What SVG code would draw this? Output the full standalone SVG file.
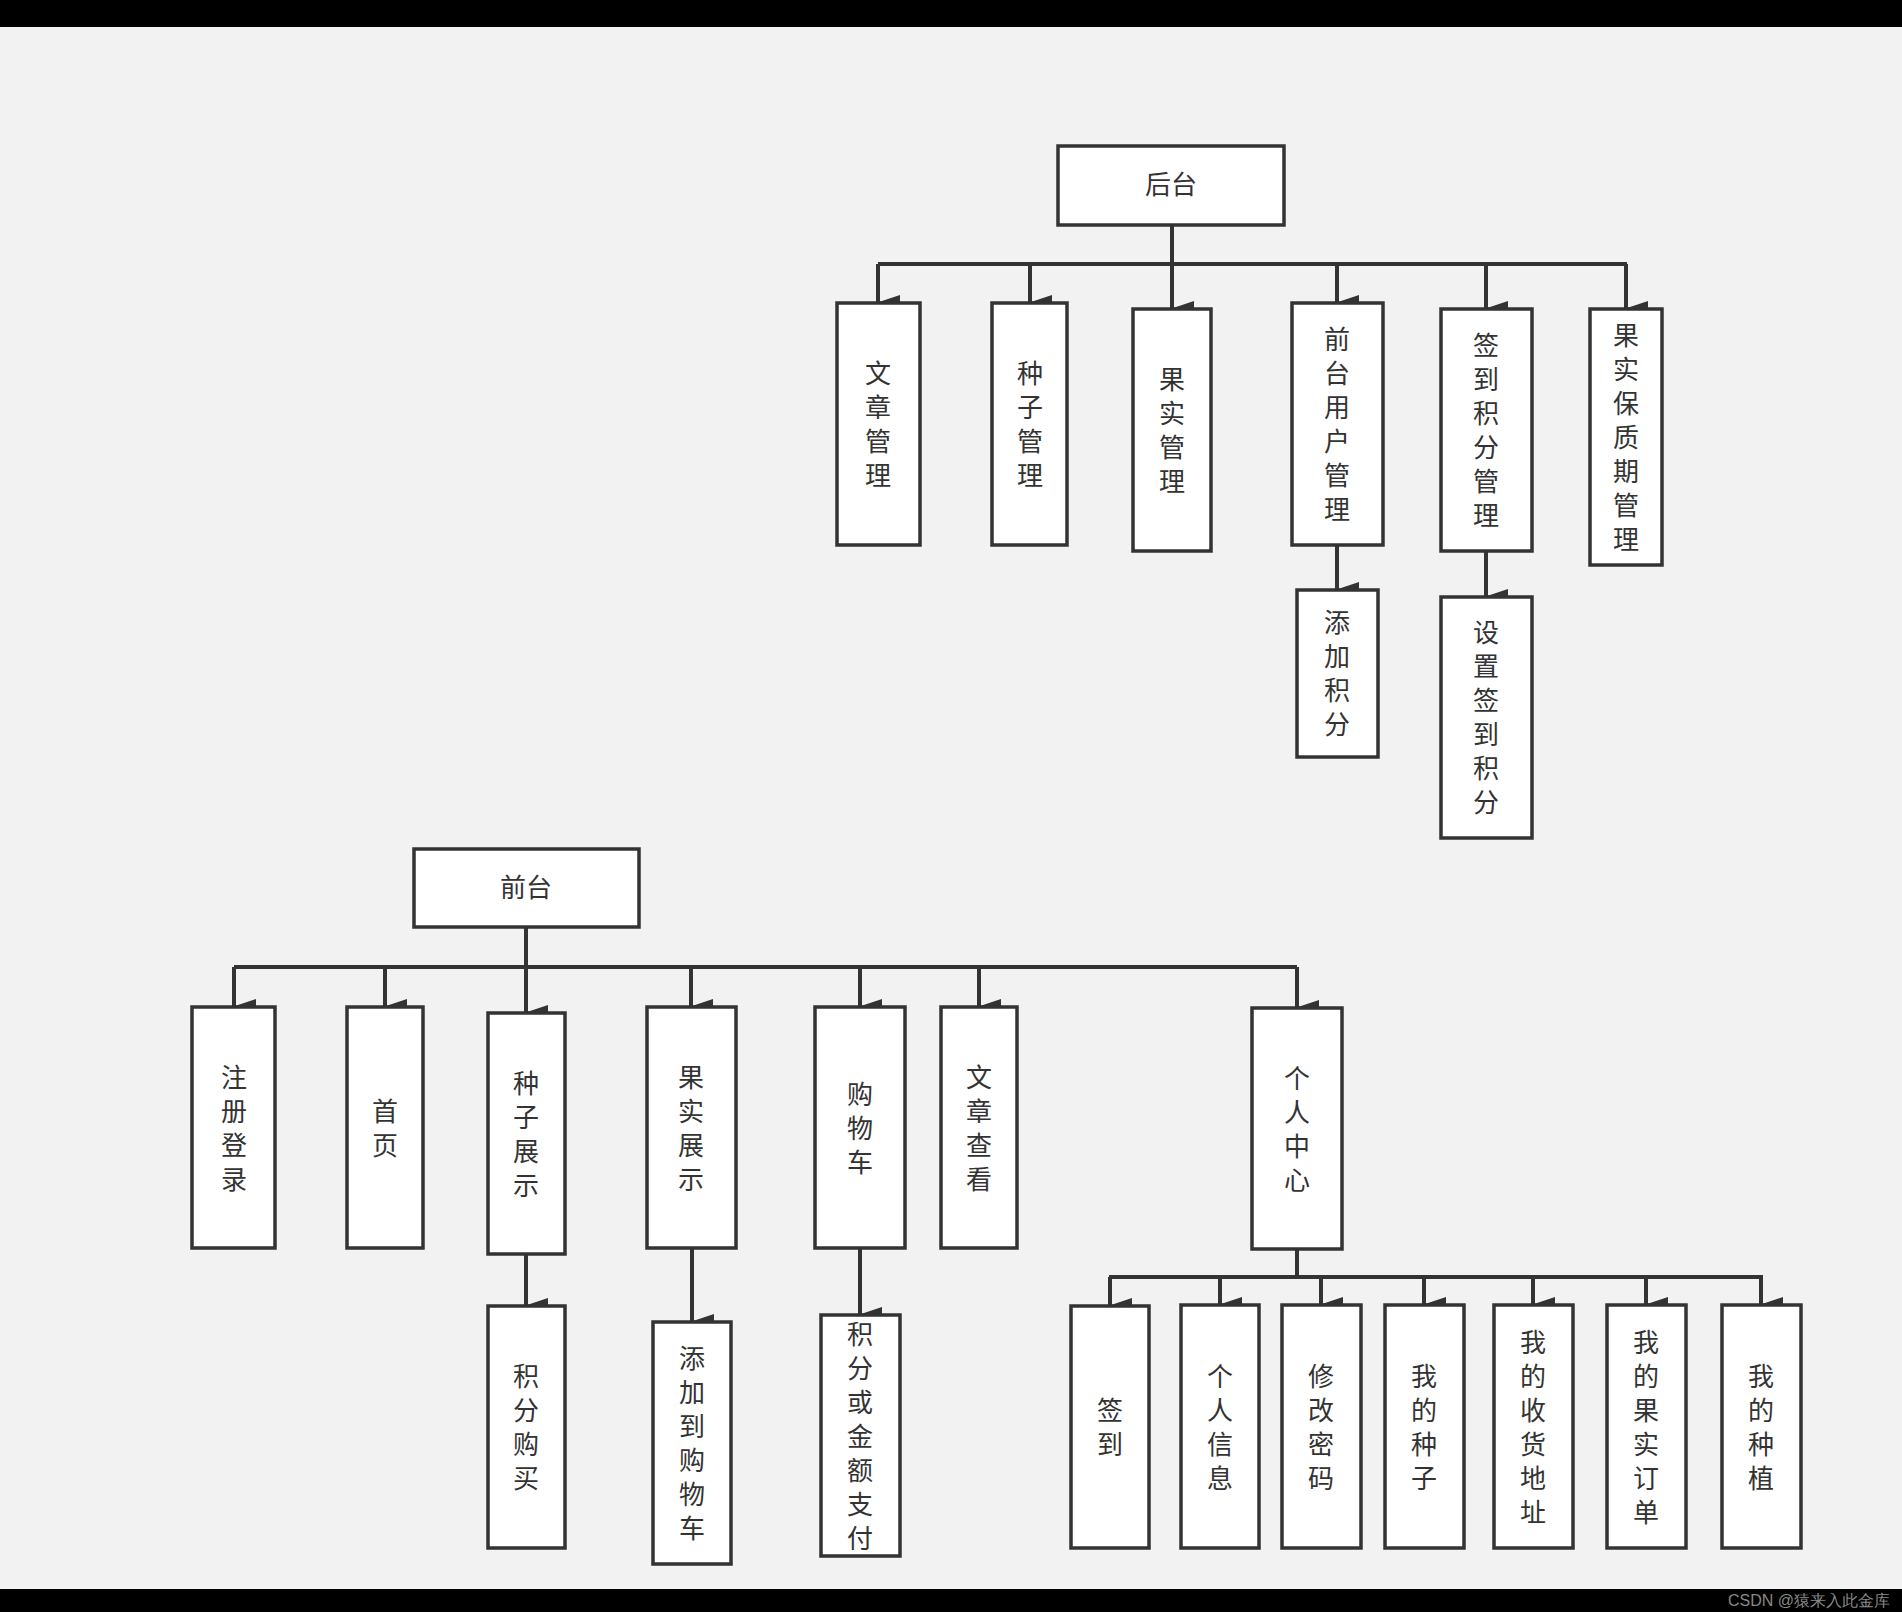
<svg xmlns="http://www.w3.org/2000/svg" width="1902" height="1612" viewBox="0 0 1902 1612">
<defs>
<style>
.b{fill:#fff;stroke:#333;stroke-width:3.5}
.t{font-family:"Noto Sans CJK SC","Noto Sans CJK JP",sans-serif;font-size:26px;fill:#333;text-anchor:middle}
.v{writing-mode:vertical-rl;letter-spacing:8px}
.c{fill:none;stroke:#333;stroke-width:4}
</style>
<marker id="a" markerWidth="16" markerHeight="24" refX="8" refY="22" orient="auto-start-reverse" markerUnits="userSpaceOnUse" viewBox="0 0 16 24">
<path d="M0,0 L16,0 L8,24 Z" fill="#333"/>
</marker>
</defs>
<rect width="1902" height="1612" fill="#f2f2f2"/>
<rect width="1902" height="27" fill="#000"/>
<rect y="1589" width="1902" height="23" fill="#000"/>
<text x="1890" y="1606" font-family="Liberation Sans,sans-serif" font-size="16" fill="#888" text-anchor="end">CSDN @猿来入此金库</text>
<g id="connectors">
<path class="c" d="M1172,225 V264 M878,264 H1627 M526,927 V967 M234,967 H1297 M1297,1249 V1277 M1109,1277 H1763"/>
<g marker-end="url(#a)" class="c">
<path d="M878,264 V303"/><path d="M1030,264 V303"/><path d="M1172,264 V309"/><path d="M1337,264 V303"/><path d="M1486,264 V309"/><path d="M1626,264 V309"/>
<path d="M1337,545 V590"/><path d="M1486,551 V597"/>
<path d="M234,967 V1007"/><path d="M385,967 V1007"/><path d="M526,967 V1013"/><path d="M691,967 V1007"/><path d="M860,967 V1007"/><path d="M979,967 V1007"/><path d="M1297,967 V1008"/>
<path d="M526,1254 V1306"/><path d="M692,1248 V1322"/><path d="M860,1248 V1315"/>
<path d="M1110,1277 V1306"/><path d="M1220,1277 V1305"/><path d="M1321,1277 V1305"/><path d="M1424,1277 V1305"/><path d="M1533,1277 V1305"/><path d="M1646,1277 V1305"/><path d="M1761,1277 V1305"/>
</g>
</g>
<g id="n-houtai"><rect class="b" x="1058" y="146" width="226" height="79"/><text class="t" x="1171" y="194">后台</text></g>
<g id="n-wzgl"><rect class="b" x="837" y="303" width="83" height="242"/><text class="t v" x="878" y="428">文章管理</text></g>
<g id="n-zzgl"><rect class="b" x="992" y="303" width="75" height="242"/><text class="t v" x="1030" y="428">种子管理</text></g>
<g id="n-gsgl"><rect class="b" x="1133" y="309" width="78" height="242"/><text class="t v" x="1172" y="434">果实管理</text></g>
<g id="n-qtyhgl"><rect class="b" x="1292" y="303" width="91" height="242"/><text class="t v" x="1337" y="428">前台用户管理</text></g>
<g id="n-qdjfgl"><rect class="b" x="1441" y="309" width="91" height="242"/><text class="t v" x="1486" y="434">签到积分管理</text></g>
<g id="n-gsbzq"><rect class="b" x="1590" y="309" width="72" height="256"/><text class="t v" x="1626" y="441">果实保质期管理</text></g>
<g id="n-tjjf"><rect class="b" x="1297" y="590" width="81" height="167"/><text class="t v" x="1337" y="677">添加积分</text></g>
<g id="n-szqdjf"><rect class="b" x="1441" y="597" width="91" height="241"/><text class="t v" x="1486" y="721">设置签到积分</text></g>
<g id="n-qiantai"><rect class="b" x="414" y="849" width="225" height="78"/><text class="t" x="526" y="897">前台</text></g>
<g id="n-zcdl"><rect class="b" x="192" y="1007" width="83" height="241"/><text class="t v" x="234" y="1132">注册登录</text></g>
<g id="n-sy"><rect class="b" x="347" y="1007" width="76" height="241"/><text class="t v" x="385" y="1132">首页</text></g>
<g id="n-zzzs"><rect class="b" x="488" y="1013" width="77" height="241"/><text class="t v" x="526" y="1138">种子展示</text></g>
<g id="n-gszs"><rect class="b" x="647" y="1007" width="89" height="241"/><text class="t v" x="691" y="1132">果实展示</text></g>
<g id="n-gwc"><rect class="b" x="815" y="1007" width="90" height="241"/><text class="t v" x="860" y="1132">购物车</text></g>
<g id="n-wzck"><rect class="b" x="941" y="1007" width="76" height="241"/><text class="t v" x="979" y="1132">文章查看</text></g>
<g id="n-grzx"><rect class="b" x="1252" y="1008" width="90" height="241"/><text class="t v" x="1297" y="1133">个人中心</text></g>
<g id="n-jfgm"><rect class="b" x="488" y="1306" width="77" height="242"/><text class="t v" x="526" y="1431">积分购买</text></g>
<g id="n-tjdgwc"><rect class="b" x="653" y="1322" width="78" height="242"/><text class="t v" x="692" y="1447">添加到购物车</text></g>
<g id="n-jfhjezf"><rect class="b" x="821" y="1315" width="79" height="241"/><text class="t v" x="860" y="1440">积分或金额支付</text></g>
<g id="n-qd"><rect class="b" x="1071" y="1306" width="78" height="242"/><text class="t v" x="1110" y="1431">签到</text></g>
<g id="n-grxx"><rect class="b" x="1181" y="1305" width="78" height="243"/><text class="t v" x="1220" y="1431">个人信息</text></g>
<g id="n-xgmm"><rect class="b" x="1282" y="1305" width="79" height="243"/><text class="t v" x="1321" y="1431">修改密码</text></g>
<g id="n-wdzz"><rect class="b" x="1385" y="1305" width="79" height="243"/><text class="t v" x="1424" y="1431">我的种子</text></g>
<g id="n-wdshdz"><rect class="b" x="1494" y="1305" width="79" height="243"/><text class="t v" x="1533" y="1431">我的收货地址</text></g>
<g id="n-wdgsdd"><rect class="b" x="1607" y="1305" width="79" height="243"/><text class="t v" x="1646" y="1431">我的果实订单</text></g>
<g id="n-wdzz2"><rect class="b" x="1722" y="1305" width="79" height="243"/><text class="t v" x="1761" y="1431">我的种植</text></g>
</svg>
